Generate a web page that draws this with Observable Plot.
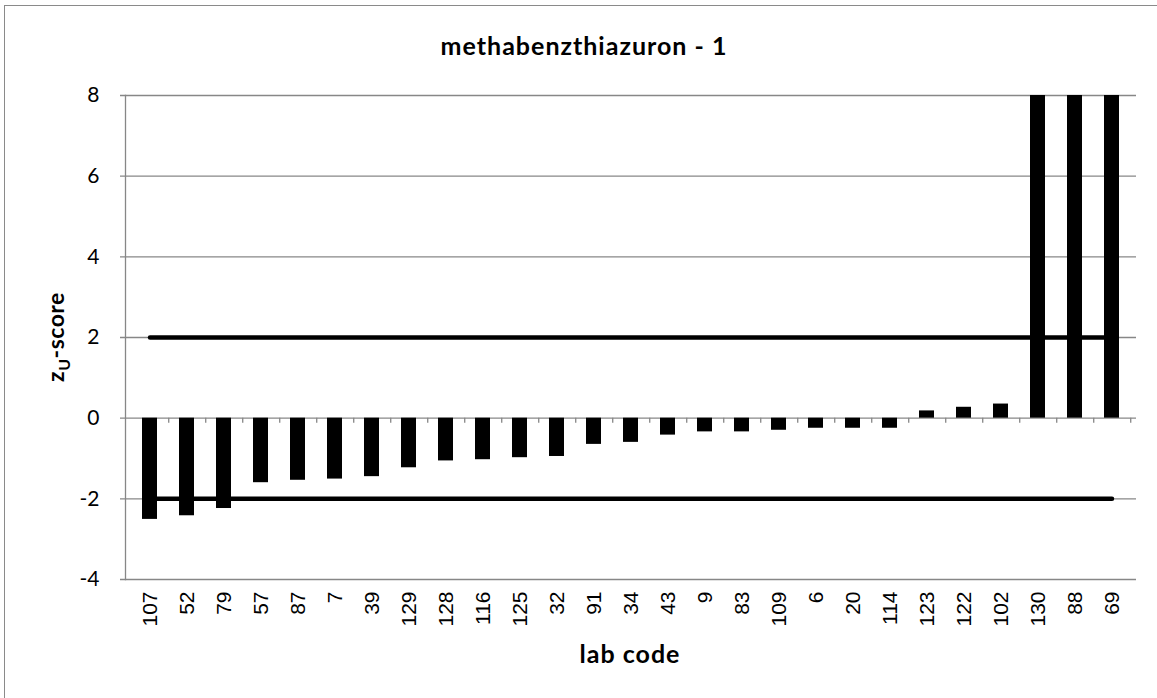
<!DOCTYPE html>
<html>
<head>
<meta charset="utf-8">
<script src="https://cdn.jsdelivr.net/npm/d3@7"></script>
<script src="https://cdn.jsdelivr.net/npm/@observablehq/plot@0.6"></script>
<style>
  html, body { margin: 0; padding: 0; background: #fff; overflow: hidden; }
  #wrap { position: relative; width: 1157px; height: 698px; overflow: hidden; }
  #border { position: absolute; left: 4px; top: 5px; width: 1300px; height: 900px; border: 1px solid #8a8a8a; box-sizing: border-box; }
  #chart { position: absolute; left: 0; top: 0; }
</style>
</head>
<body>
<div id="wrap"><div id="border"></div><div id="chart"></div></div>
<script>
const titleText = "methabenzthiazuron - 1";
const xLabel = "lab code";
const labCodes = ["107","52","79","57","87","7","39","129","128","116","125","32","91","34","43","9","83","109","6","20","114","123","122","102","130","88","69"];
const zScores = [-2.51,-2.42,-2.24,-1.60,-1.54,-1.51,-1.45,-1.23,-1.06,-1.03,-0.98,-0.95,-0.65,-0.60,-0.42,-0.34,-0.34,-0.30,-0.25,-0.25,-0.25,0.18,0.27,0.35,10,10,10];
const limits = [2, -2];
const yTicks = [-4, -2, 0, 2, 4, 6, 8];

const W = 1157, H = 698, ML = 125, MR = 21, MT = 95, MB = 119;
const step = (W - ML - MR) / labCodes.length;

const bars = labCodes.map((c, i) => ({code: c, z: zScores[i]}));
const limitData = limits.flatMap(l => labCodes.map(c => ({code: c, limit: l})));
const grey = "#878787";

const chart = Plot.plot({
  width: W, height: H,
  marginLeft: ML, marginRight: MR, marginTop: MT, marginBottom: MB,
  style: {fontFamily: "Liberation Sans", background: "transparent", color: "black"},
  x: {domain: labCodes, paddingInner: 0.6, paddingOuter: 0.3, label: null},
  y: {domain: [-4, 8], ticks: yTicks, label: null},
  marks: [
    Plot.gridY(yTicks, {stroke: grey, strokeOpacity: 1, strokeWidth: 1.3, insetLeft: -5}),
    Plot.frame({anchor: "left", stroke: grey, strokeWidth: 1.3}),
    Plot.ruleX(labCodes, {x: d => d, y1: 0, y2: -0.125, dx: step / 2, stroke: grey, strokeWidth: 1.3}),
    Plot.barY(bars, {x: "code", y: "z", fill: "black", clip: true}),
    Plot.lineY(limitData, {x: "code", y: "limit", z: "limit", stroke: "black", strokeWidth: 4.5, strokeLinecap: "round"}),
    Plot.axisY(yTicks, {tickSize: 0, tickPadding: 26, fontSize: 21, fontFamily: "Lato", tickFormat: d => String(d), label: null}),
    Plot.axisX({tickSize: 0, tickRotate: -90, tickPadding: 12, fontSize: 21, fontFamily: "Liberation Sans", label: null})
  ]
});

const svg = d3.select(chart);
svg.append("text")
  .attr("x", 584).attr("y", 55)
  .attr("text-anchor", "middle")
  .attr("font-family", "Lato").attr("font-weight", "bold").attr("font-size", 25)
  .attr("letter-spacing", 1)
  .attr("fill", "black")
  .text(titleText);

svg.append("text")
  .attr("x", 630).attr("y", 663)
  .attr("text-anchor", "middle")
  .attr("font-family", "Lato").attr("font-weight", "bold").attr("font-size", 25)
  .attr("letter-spacing", 1)
  .attr("fill", "black")
  .text(xLabel);

const yl = svg.append("text")
  .attr("transform", "translate(64,337) rotate(-90)")
  .attr("text-anchor", "middle")
  .attr("font-family", "Lato").attr("font-weight", "bold").attr("font-size", 23)
  .attr("letter-spacing", 0.5)
  .attr("fill", "black");
yl.append("tspan").text("z");
yl.append("tspan").attr("font-size", 16).attr("dy", 6).text("U");
yl.append("tspan").attr("dy", -6).text("-score");

document.getElementById("chart").appendChild(chart);
</script>
</body>
</html>
